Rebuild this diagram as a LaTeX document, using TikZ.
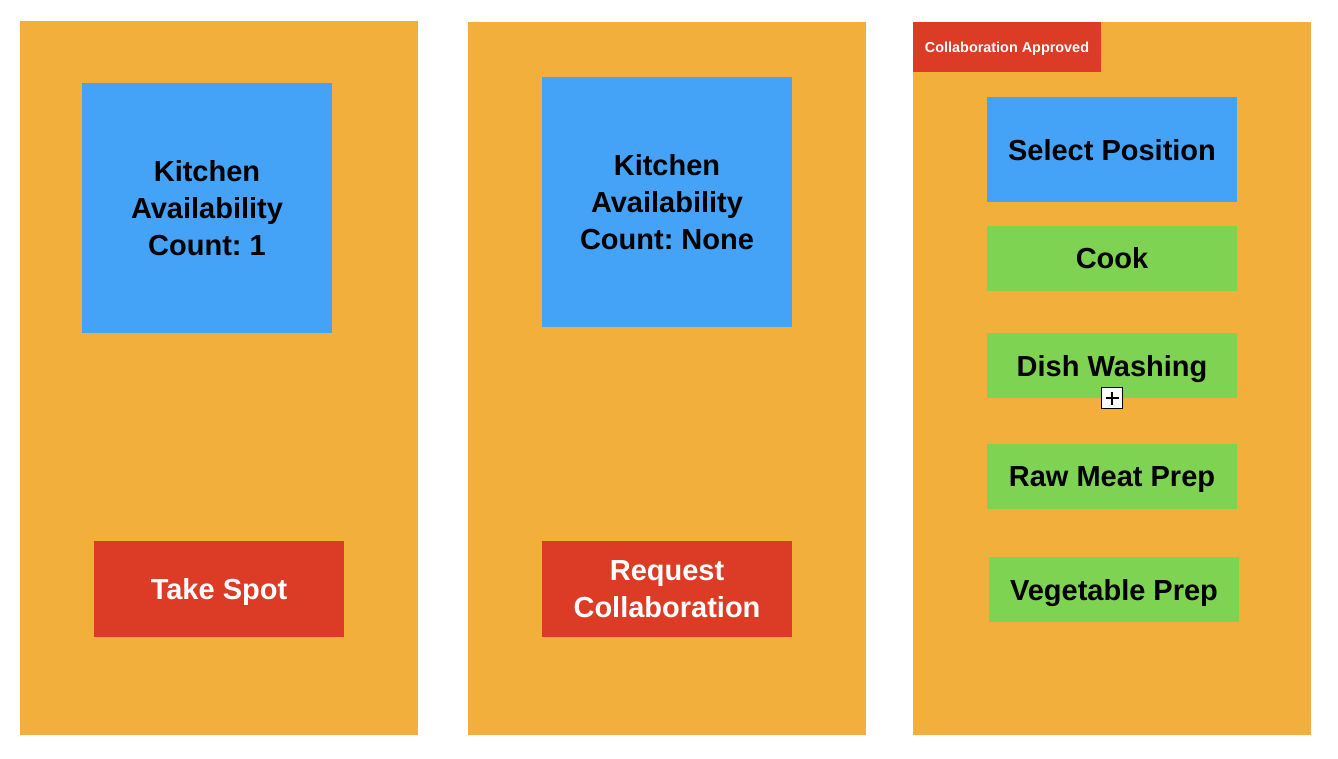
\documentclass[tikz,border=0pt]{standalone}
\usepackage{fontspec}
\setmainfont{Liberation Sans}
\frenchspacing
\definecolor{panelorange}{HTML}{F2AF3C}
\definecolor{boxblue}{HTML}{44A3F7}
\definecolor{boxred}{HTML}{DC3B26}
\definecolor{boxgreen}{HTML}{7ED352}
\tikzset{
  screen/.style={fill=panelorange},
  infobox/.style={fill=boxblue, inner sep=0pt, align=center, font=\bfseries\fontsize{16.5}{21.2}\selectfont, text=black},
  actionbox/.style={fill=boxred, inner sep=0pt, align=center, font=\bfseries\fontsize{16.5}{21.2}\selectfont, text=white},
  rolebox/.style={fill=boxgreen, inner sep=0pt, minimum width=5cm, minimum height=1.3cm, text depth=0pt, font=\bfseries\fontsize{16.5}{21.2}\selectfont, text=black},
}
\begin{document}
\begin{tikzpicture}[x=0.02cm, y=-0.02cm]  % one unit = one pixel of the sketch

    \useasboundingbox (0,0) rectangle (1338,758);

    % three phone screens
    \fill[screen] (20,21) rectangle (418,735);  % first screen
    \fill[screen] (468,22) rectangle (866,735); % second screen
    \fill[screen] (913,22) rectangle (1311,735); % third screen

    % first screen: a spot is free
    \node[infobox, minimum width=5cm, minimum height=5cm] (count1) at (207,208) {Kitchen\\Availability\\Count: 1};
    \node[actionbox, minimum width=5cm, minimum height=1.92cm, text depth=0pt] (take) at (219,589) {Take Spot};

    % second screen: kitchen is full
    \node[infobox, minimum width=5cm, minimum height=5cm] (count2) at (667,202) {Kitchen\\Availability\\Count: None};
    \node[actionbox, minimum width=5cm, minimum height=1.92cm] (request) at (667,589) {Request\\Collaboration};

    % third screen: choose a position
    \node[actionbox, minimum width=3.76cm, minimum height=1cm, text depth=0pt, font=\bfseries\fontsize{8.2}{10}\selectfont] (approved) at (1007,47) {Collaboration Approved};
    \node[infobox, minimum width=5cm, minimum height=2.1cm, text depth=0pt] (select) at (1112,149.5) {Select Position};
    \node[rolebox] (cook) at (1112,258) {Cook};
    \node[rolebox] (dish) at (1112,365.5) {Dish Washing};
    \node[rolebox] (meat) at (1112,476.5) {Raw Meat Prep};
    \node[rolebox] (veg) at (1114,589.5) {Vegetable Prep};

    % small plus handle under Dish Washing
    \node[draw=black, fill=white, line width=1pt, minimum size=0.42cm, inner sep=0pt] (plus) at (1112,398) {};
    \draw[line width=1pt] ([xshift=-0.13cm]plus.center) -- ([xshift=0.13cm]plus.center);
    \draw[line width=1pt] ([yshift=-0.13cm]plus.center) -- ([yshift=0.13cm]plus.center);

\end{tikzpicture}
\end{document}
